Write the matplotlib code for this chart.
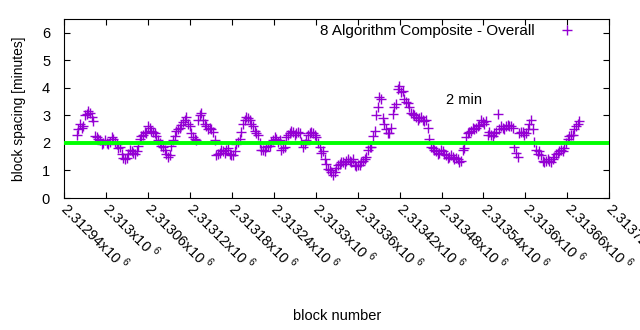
import numpy as np
import matplotlib
matplotlib.use("Agg")
import matplotlib.pyplot as plt

plt.rcParams['font.family'] = ['Liberation Sans', 'DejaVu Sans']
plt.rcParams['mathtext.fontset'] = 'custom'
plt.rcParams['mathtext.rm'] = 'Liberation Sans'

# block range shown on the x axis
BLOCK_FIRST = 2312958
BLOCK_LAST = 2313677

# block spacing in minutes left to right
spacing = [
    2.3, 2.7, 2.6, 3.05, 3.1, 2.8, 2.2, 2.1, 2.0, 2.0,
    2.05, 2.15, 1.95, 1.85, 1.45, 1.45, 1.75, 1.65, 1.7, 2.15,
    2.3, 2.35, 2.55, 2.4, 2.25, 2.0, 1.85, 1.6, 1.55, 2.1,
    2.45, 2.55, 2.75, 2.95, 2.6, 2.2, 2.1, 3.0, 2.85, 2.6,
    2.55, 2.4, 1.55, 1.65, 1.7, 1.75, 1.6, 1.55, 1.95, 2.15,
    2.7, 2.95, 2.85, 2.6, 2.35, 2.0, 1.75, 1.85, 1.9, 2.1,
    2.15, 2.1, 1.8, 2.2, 2.35, 2.4, 2.35, 2.35, 1.85, 2.1,
    2.35, 2.35, 2.2, 1.85, 1.7, 1.25, 1.0, 0.85, 1.1, 1.25,
    1.3, 1.35, 1.35, 1.4, 1.15, 1.2, 1.35, 1.5, 1.85, 2.25,
    3.0, 3.65, 2.9, 2.5, 2.35, 3.05, 3.4, 4.05, 3.9, 3.5,
    3.3, 3.05, 2.95, 2.9, 2.85, 2.85, 2.15, 1.8, 1.7, 1.65,
    1.7, 1.55, 1.5, 1.5, 1.45, 1.3, 1.75, 2.2, 2.4, 2.55,
    2.55, 2.65, 2.75, 2.8, 2.4, 2.25, 2.4, 2.5, 2.55, 2.6,
    2.6, 2.55, 1.65, 2.35, 2.4, 2.35, 2.7, 2.5, 1.75, 1.7,
    1.35, 1.35, 1.35, 1.4, 1.6, 1.7, 1.7, 2.0, 2.25, 2.3,
    2.6, 2.8,
]

# the blocks in between the ones above (the cloud is dense)
spacing_between = [
    2.5, 2.55, 3.0, 3.15, 2.95, 2.25, 2.15, 1.95, 2.1, 1.95,
    2.2, 2.05, 1.8, 1.6, 1.4, 1.6, 1.7, 1.6, 1.9, 2.25,
    2.4, 2.6, 2.45, 2.35, 2.1, 1.9, 1.75, 1.5, 1.9, 2.25,
    2.5, 2.65, 2.85, 2.7, 2.35, 2.15, 2.85, 3.1, 2.7, 2.5,
    2.5, 2.1, 1.6, 1.75, 1.65, 1.8, 1.55, 1.7, 2.05, 2.4,
    2.85, 2.9, 2.7, 2.45, 2.3, 1.75, 1.7, 1.9, 2.05, 2.2,
    2.05, 1.75, 1.85, 2.3, 2.45, 2.3, 2.4, 2.05, 1.95, 2.3,
    2.4, 2.3, 2.0, 1.65, 1.4, 1.05, 0.95, 0.95, 1.2, 1.3,
    1.25, 1.4, 1.3, 1.2, 1.2, 1.3, 1.4, 1.75, 1.85, 2.45,
    3.3, 3.6, 2.7, 2.35, 2.55, 3.3, 3.95, 3.85, 3.6, 3.45,
    3.1, 3.0, 2.85, 2.95, 2.8, 2.55, 1.85, 1.75, 1.6, 1.75,
    1.6, 1.45, 1.55, 1.4, 1.4, 1.35, 1.8, 2.35, 2.45, 2.5,
    2.6, 2.85, 2.7, 2.3, 2.3, 2.35, 3.05, 2.6, 2.5, 2.65,
    2.6, 1.85, 1.5, 2.4, 2.3, 2.5, 2.85, 2.05, 1.6, 1.55,
    1.3, 1.4, 1.3, 1.5, 1.65, 1.75, 1.8, 2.15, 2.3, 2.5,
    2.7,
]

step = (BLOCK_LAST - BLOCK_FIRST) / (len(spacing) - 1)
blocks = np.linspace(BLOCK_FIRST, BLOCK_LAST, len(spacing))
blocks_between = np.linspace(BLOCK_FIRST + step / 2, BLOCK_LAST - step / 2,
                             len(spacing_between))

all_blocks = np.concatenate([blocks, blocks_between])
all_spacing = np.concatenate([spacing, spacing_between])

target_minutes = 2
xticks = list(range(2312940, 2313721, 60))
yticks = [0, 1, 2, 3, 4, 5, 6]


def tick_label(v):
    return "%gx10 $^{6}$" % (v / 1e6)


fig = plt.figure(figsize=(6.4, 3.3), dpi=100)
ax = fig.add_axes([0.1, 0.4, 0.852, 0.5424])

ax.plot(all_blocks, all_spacing, linestyle='none', marker='+', markersize=7,
        markeredgewidth=1.0, color='#9400d3',
        label='8 Algorithm Composite - Overall')
ax.axhline(target_minutes, color='#00ff00', linewidth=2.8, zorder=3)
ax.text(2313487, 3.55, '2 min', fontsize=10.5, va='center', ha='left')

ax.set_xlim(2312940, 2313720)
ax.set_ylim(0, 6.5)
ax.set_xticks(xticks)
ax.set_xticklabels([tick_label(v) for v in xticks], rotation=-45,
                   ha='left', va='center', rotation_mode='anchor')
ax.set_yticks(yticks)

ax.tick_params(direction='in', length=4, width=0.8, labelsize=10.5,
               top=True, right=True)
ax.tick_params(axis='y', pad=10)
ax.tick_params(axis='x', pad=5)
for s in ax.spines.values():
    s.set_linewidth(0.8)

ax.set_ylabel('block spacing [minutes]', fontsize=10)
ax.yaxis.set_label_coords(-0.07, 0.5)
ax.set_xlabel('block number', fontsize=10.5)
ax.xaxis.set_label_coords(0.5, -0.62)

ax.legend(loc='upper right', bbox_to_anchor=(0.969, 0.97), frameon=False,
          markerfirst=False, handlelength=3.3, handletextpad=0.5,
          borderpad=0, borderaxespad=0, fontsize=11, numpoints=1)

fig.savefig('out.png', dpi=100)
